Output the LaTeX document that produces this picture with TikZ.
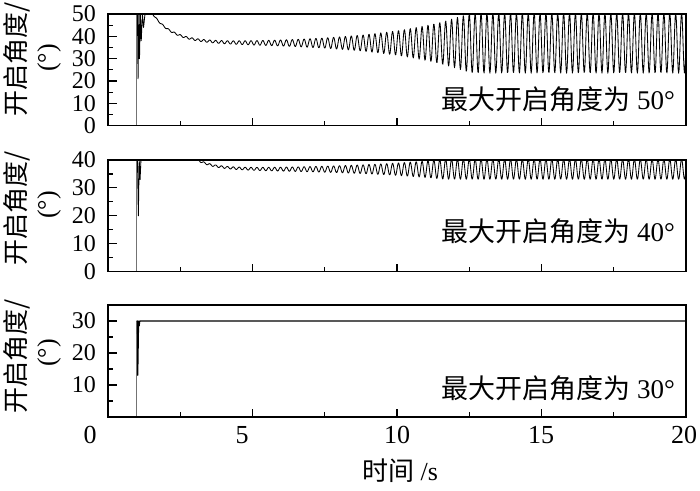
\documentclass[tikz,border=0pt]{standalone}
\usepackage{fontspec}
\setmainfont{Liberation Serif}
\newfontfamily\cjk{Noto Sans CJK SC}
\begin{document}
\begin{tikzpicture}[x=28.9pt, y=1pt,
  frame/.style={line width=1.4pt},
  tickline/.style={line width=1.1pt},
  curve/.style={line width=0.85pt, black, line join=round},
  riser/.style={line width=0.7pt, black!55},
  ticklab/.style={font=\fontsize{24}{24}\selectfont, inner sep=0pt},
  xlab/.style={font=\fontsize{26}{26}\selectfont, inner sep=0pt},
  ytitle/.style={font=\fontsize{26}{26}\selectfont\cjk, inner sep=0pt, rotate=90},
  yunit/.style={font=\fontsize{26}{26}\selectfont, inner sep=0pt, rotate=90},
  inlab/.style={font=\fontsize{27}{27}\selectfont, inner sep=0pt, anchor=east}]
\useasboundingbox (0pt,0pt) rectangle (700pt,490pt);

% ---------- Panel 1 : 50 deg ----------
\begin{scope}[shift={(108pt,364.3pt)}, y=2.234pt]
  \begin{scope}
    \clip (0,0) rectangle (20,50);
    \draw[riser] (0.99,0) -- (0.99,50);
    \draw[curve] (0.99,50) -- (1.02,50) -- (1.04,21) -- (1.07,50) -- (1.09,30) -- (1.12,50)
      -- (1.15,38) -- (1.19,50) -- (1.23,44) -- (1.28,50) -- (1.55,50);
    \draw[curve] plot[domain=1.55:20, samples=1100]
      (\x, {min(50, 37+13*exp(max(-9,-(\x-1.55)/0.7)) + min(13.5, 0.4*exp(0.35*(\x-2.5)))*sin(360*frac(4.9*\x)))});
  \end{scope}
  \foreach \t in {0,5,...,20} \draw[tickline] (\t,0) -- ++(0,8pt);
  \foreach \t in {2.5,7.5,12.5,17.5} \draw[tickline] (\t,0) -- ++(0,5pt);
  \foreach \v in {0,10,...,50} \draw[tickline] (0,\v) -- ++(9pt,0);
  \foreach \v in {5,15,...,45} \draw[tickline] (0,\v) -- ++(5pt,0);
  \foreach \v in {0,10,...,50} \node[ticklab, anchor=east] (ya\v) at ([xshift=-12pt]0,\v) {\v};
  \draw[frame] (0,0) rectangle (20,50);
\end{scope}
\node[inlab] (lab1) at (675pt,391pt) {\cjk 最大开启角度为\ {\rmfamily 50°}};
\node[ytitle] (yt1) at (16.5pt,431pt) {开启角度/};
\node[yunit] (yu1) at (49pt,432pt) {(°)};

% ---------- Panel 2 : 40 deg ----------
\begin{scope}[shift={(108pt,218.3pt)}, y=2.7925pt]
  \begin{scope}
    \clip (0,0) rectangle (20,40);
    \draw[riser] (0.99,0) -- (0.99,40);
    \draw[curve] (0.99,40) -- (1.02,40) -- (1.05,20) -- (1.08,40) -- (1.11,33) -- (1.14,40) -- (3.1,40);
    \draw[curve] plot[domain=3.1:20, samples=1100]
      (\x, {min(40, 36.7+3.3*exp(max(-9,-(\x-3.1)/0.6)) + min(3.6, 0.3*exp(0.29*(\x-3.1)))*sin(360*frac(4.9*\x)))});
  \end{scope}
  \foreach \t in {0,5,...,20} \draw[tickline] (\t,0) -- ++(0,8pt);
  \foreach \t in {2.5,7.5,12.5,17.5} \draw[tickline] (\t,0) -- ++(0,5pt);
  \foreach \v in {0,10,...,40} \draw[tickline] (0,\v) -- ++(9pt,0);
  \foreach \v in {5,15,...,35} \draw[tickline] (0,\v) -- ++(5pt,0);
  \foreach \v in {0,10,...,40} \node[ticklab, anchor=east] (yb\v) at ([xshift=-12pt]0,\v) {\v};
  \draw[frame] (0,0) rectangle (20,40);
\end{scope}
\node[inlab] (lab2) at (675pt,258.5pt) {\cjk 最大开启角度为\ {\rmfamily 40°}};
\node[ytitle] (yt2) at (16.5pt,282pt) {开启角度/};
\node[yunit] (yu2) at (49pt,285pt) {(°)};

% ---------- Panel 3 : 30 deg ----------
\begin{scope}[shift={(108pt,73pt)}, y=3.2pt]
  \begin{scope}
    \clip (0,0) rectangle (20,35);
    \draw[riser] (0.99,0) -- (0.99,30);
    \draw[curve, line width=1.1pt] (0.99,30) -- (1.02,30) -- (1.03,13) -- (1.06,30) -- (1.08,28.5) -- (1.1,30) -- (20,30);
  \end{scope}
  \foreach \t in {0,5,...,20} \draw[tickline] (\t,0) -- ++(0,8pt);
  \foreach \t in {2.5,7.5,12.5,17.5} \draw[tickline] (\t,0) -- ++(0,5pt);
  \foreach \v in {10,20,30} \draw[tickline] (0,\v) -- ++(9pt,0);
  \foreach \v in {5,15,25} \draw[tickline] (0,\v) -- ++(5pt,0);
  \foreach \v in {10,20,30} \node[ticklab, anchor=east] (yc\v) at ([xshift=-12pt]0,\v) {\v};
  \draw[frame] (0,0) rectangle (20,35);
\end{scope}
\node[inlab] (lab3) at (675pt,102pt) {\cjk 最大开启角度为\ {\rmfamily 30°}};
\node[ytitle] (yt3) at (16.5pt,134pt) {开启角度/};
\node[yunit] (yu3) at (49pt,137pt) {(°)};

% ---------- x axis labels ----------
\node[xlab] (x0) at (90pt,55pt) {0};
\node[xlab] (x5) at (242pt,55pt) {5};
\node[xlab] (x10) at (397pt,55pt) {10};
\node[xlab] (x15) at (541pt,55pt) {15};
\node[xlab] (x20) at (684pt,55pt) {20};
\node[xlab] (xt) at (400pt,19pt) {{\cjk 时间}\ /s};
\end{tikzpicture}
\end{document}
